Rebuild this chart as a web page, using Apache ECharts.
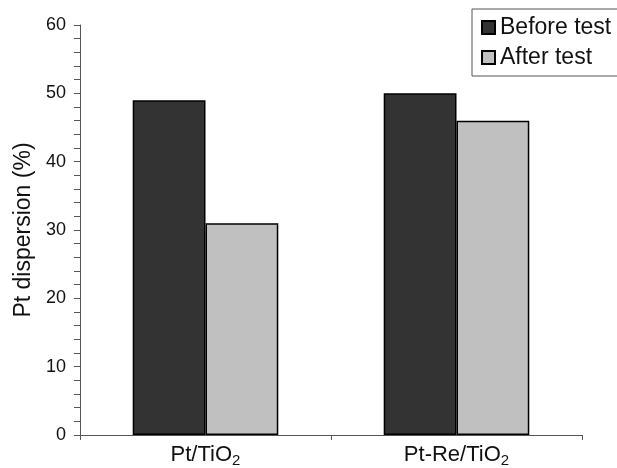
<!DOCTYPE html>
<html><head><meta charset="utf-8">
<script src="https://cdn.jsdelivr.net/npm/echarts@6/dist/echarts.min.js"></script>
<style>html,body{margin:0;padding:0;background:#fff}#c{width:617px;height:468px}</style>
</head><body><div id="c"></div>
<script>
const categories = ['Pt/TiO2', 'Pt-Re/TiO2'];
const seriesNames = ['Before test', 'After test'];
const beforeTest = [49, 50];
const afterTest = [31, 46];
const yTicks = [0, 10, 20, 30, 40, 50, 60];

const chart = echarts.init(document.getElementById('c'), null, {renderer: 'canvas'});
const font = 'Liberation Sans, Arial, sans-serif';
chart.setOption({
  animation: false,
  grid: {left: 80, right: 35, top: 25, bottom: 30.5, containLabel: false},
  legend: {
    orient: 'vertical', left: 472, top: 9,
    itemWidth: 13, itemHeight: 13, itemGap: 7,
    padding: [7, 40, 7, 9],
    borderColor: '#555', borderWidth: 1,
    icon: 'rect',
    textStyle: {fontFamily: font, fontSize: 23, color: '#111'},
    data: seriesNames
  },
  xAxis: {
    type: 'category', data: categories,
    axisLine: {lineStyle: {color: '#555', width: 1}},
    axisTick: {show: true, length: 5, lineStyle: {color: '#555'}},
    axisLabel: {
      margin: 6,
      formatter: v => '{a|' + v.slice(0, -1) + '}{s|' + v.slice(-1) + '}',
      rich: {
        a: {fontFamily: font, fontSize: 22, color: '#111'},
        s: {fontFamily: font, fontSize: 15, color: '#111', padding: [12, 0, 0, 0]}
      }
    }
  },
  yAxis: {
    type: 'value', min: yTicks[0], max: yTicks[yTicks.length - 1], interval: 10,
    name: 'Pt dispersion (%)', nameLocation: 'middle', nameGap: 45,
    nameTextStyle: {fontFamily: font, fontSize: 23, color: '#111'},
    axisLine: {show: true, lineStyle: {color: '#555', width: 1}},
    axisTick: {show: true, length: 6, lineStyle: {color: '#555'}},
    minorTick: {show: true, splitNumber: 5, length: 6, lineStyle: {color: '#555'}},
    splitLine: {show: false},
    axisLabel: {fontFamily: font, fontSize: 18, color: '#111', margin: 14}
  },
  series: [
    {name: seriesNames[0], type: 'bar', data: beforeTest, barGap: '0%', barCategoryGap: '42%',
     itemStyle: {color: '#333333', borderColor: '#000', borderWidth: 1.5}},
    {name: seriesNames[1], type: 'bar', data: afterTest, barGap: '0%', barCategoryGap: '42%',
     itemStyle: {color: '#c0c0c0', borderColor: '#000', borderWidth: 1.5}}
  ]
});
</script></body></html>
